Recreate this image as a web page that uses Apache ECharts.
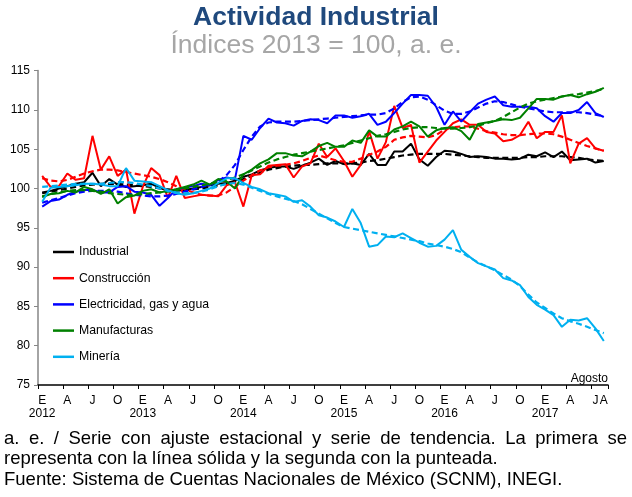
<!DOCTYPE html>
<html><head><meta charset="utf-8">
<script src="https://cdn.jsdelivr.net/npm/echarts@6/dist/echarts.min.js"></script>
<style>html,body{margin:0;padding:0;background:#fff}#c{width:632px;height:497px}</style>
</head><body><div id="c"></div>
<script>
// ---- data ----
const years = [2012, 2013, 2014, 2015, 2016, 2017];
const monthLetters = ['E','F','M','A','M','J','J','A','S','O','N','D'];
const lastMonthCount = 8; // Agosto 2017
const yTicks = {min: 75, max: 115, interval: 5};

const industrial = [
  99.5, 99.7, 100.0, 100.3, 100.6, 100.8, 102.0, 100.3, 101.2, 100.5, 100.2, 100.3,
  100.4, 100.6, 100.1, 99.7, 99.7, 99.8, 100.0, 100.2, 100.4, 100.6, 100.7, 101.0,
  101.5, 101.8, 102.3, 102.6, 102.8, 102.8, 102.5, 102.9, 103.3, 103.8, 103.0, 103.5,
  103.1, 103.2, 103.0, 104.4, 103.0, 103.0, 104.7, 104.7, 105.7, 103.7, 102.9, 104.0,
  104.8, 104.7, 104.4, 104.0, 104.1, 104.0, 103.8, 103.8, 103.7, 103.8, 104.3, 104.1,
  104.6, 104.0, 104.7, 103.6, 103.7, 103.8, 103.3, 103.5];
const industrialTend = [
  99.4, 99.6, 99.8, 100.0, 100.2, 100.4, 100.5, 100.6, 100.6, 100.6, 100.5, 100.4,
  100.3, 100.2, 100.0, 99.9, 99.8, 99.8, 99.9, 100.0, 100.2, 100.4, 100.6, 100.9,
  101.2, 101.6, 102.0, 102.4, 102.6, 102.8, 102.9, 103.0, 103.0, 103.1, 103.2, 103.2,
  103.2, 103.2, 103.3, 103.5, 103.6, 103.8, 104.0, 104.2, 104.3, 104.4, 104.4, 104.4,
  104.4, 104.3, 104.2, 104.1, 104.0, 103.9, 103.9, 103.9, 103.9, 103.9, 104.0, 104.0,
  104.1, 104.1, 104.1, 104.0, 103.9, 103.7, 103.6, 103.5];
const construccion = [
  101.6, 100.2, 100.3, 101.9, 101.1, 101.3, 106.7, 102.4, 104.1, 101.6, 102.4, 96.8,
  100.2, 102.6, 101.7, 98.8, 101.6, 98.8, 99.0, 99.2, 99.1, 99.0, 100.4, 100.8,
  97.7, 101.7, 101.8, 102.9, 103.0, 103.1, 101.4, 102.8, 103.2, 105.7, 104.0, 105.1,
  103.5, 101.5, 103.0, 107.3, 103.8, 105.9, 110.5, 107.7, 108.1, 103.3, 104.7, 106.1,
  107.2, 108.3, 108.8, 108.1, 108.1, 107.2, 107.0, 106.0, 106.2, 106.8, 108.5, 106.4,
  107.2, 107.2, 109.3, 103.2, 105.7, 106.4, 105.1, 104.8];
const construccionTend = [
  101.3, 101.0, 100.9, 101.1, 101.5, 101.9, 102.2, 102.4, 102.4, 102.3, 102.1, 101.9,
  101.7, 101.5, 101.2, 100.8, 100.3, 99.9, 99.5, 99.2, 99.1, 99.1, 99.5, 100.2,
  101.0, 101.7, 102.3, 102.7, 102.9, 103.0, 103.2, 103.5, 103.9, 104.2, 103.9, 103.6,
  103.4, 103.4, 103.8, 104.3, 104.7, 105.3, 106.2, 106.5, 106.7, 106.6, 106.5, 106.8,
  107.5, 107.8, 107.9, 107.9, 107.6, 107.3, 107.1, 106.9, 106.8, 106.8, 106.9, 107.0,
  107.0, 106.9, 106.6, 106.2, 105.8, 105.4, 105.1, 104.8];
const electricidad = [
  97.7, 98.4, 98.6, 99.2, 99.6, 99.8, 99.8, 99.5, 99.5, 100.2, 100.3, 99.6,
  99.5, 99.2, 97.8, 98.8, 99.9, 100.1, 100.3, 100.6, 100.4, 101.1, 101.4, 101.2,
  106.7, 106.2, 107.7, 108.9, 108.4, 108.3, 108.0, 108.6, 108.8, 108.7, 108.3, 109.3,
  109.3, 109.0, 109.2, 109.5, 108.1, 108.5, 109.6, 110.8, 111.9, 111.9, 111.8, 110.4,
  108.1, 109.8, 108.5, 109.7, 110.8, 111.3, 111.7, 110.6, 110.4, 110.4, 110.4, 110.2,
  109.2, 108.5, 109.6, 109.6, 110.0, 111.0, 109.6, 109.1];
const electricidadTend = [
  98.2, 98.5, 98.8, 99.1, 99.4, 99.6, 99.7, 99.7, 99.7, 99.6, 99.4, 99.2,
  99.1, 99.0, 99.0, 99.1, 99.3, 99.6, 99.9, 100.2, 100.5, 100.9, 101.7, 103.0,
  104.9, 106.6, 107.9, 108.4, 108.5, 108.5, 108.5, 108.6, 108.7, 108.8, 108.9, 109.0,
  109.1, 109.2, 109.3, 109.4, 109.4, 109.6, 110.2, 111.0, 111.6, 111.7, 111.3, 110.6,
  109.9, 109.5, 109.5, 109.8, 110.3, 110.8, 111.1, 111.0, 110.7, 110.4, 110.2, 110.0,
  109.8, 109.7, 109.7, 109.7, 109.7, 109.6, 109.4, 109.2];
const manufacturas = [
  98.9, 99.3, 99.4, 99.7, 99.5, 100.2, 99.9, 99.3, 99.9, 98.1, 98.9, 99.1,
  99.7, 99.9, 99.5, 99.7, 99.9, 100.2, 100.5, 101.0, 100.5, 101.2, 100.9, 100.0,
  101.8, 102.4, 103.2, 103.7, 104.5, 104.5, 104.2, 104.1, 104.7, 105.4, 105.8, 105.3,
  105.3, 106.1, 105.8, 107.4, 106.6, 106.6, 107.5, 107.9, 108.5, 107.9, 106.6, 107.4,
  107.7, 107.8, 107.3, 106.2, 108.2, 108.4, 108.6, 108.8, 108.7, 109.0, 110.2, 111.4,
  111.4, 111.3, 111.7, 111.9, 111.6, 112.0, 112.3, 112.8];
const manufacturasTend = [
  99.0, 99.3, 99.5, 99.7, 99.8, 99.8, 99.7, 99.6, 99.4, 99.3, 99.2, 99.2,
  99.3, 99.4, 99.5, 99.6, 99.8, 100.0, 100.2, 100.4, 100.6, 100.8, 101.1, 101.4,
  101.8, 102.3, 102.8, 103.3, 103.7, 104.0, 104.3, 104.5, 104.7, 104.9, 105.1, 105.3,
  105.5, 105.8, 106.1, 106.4, 106.7, 106.9, 107.2, 107.5, 107.7, 107.8, 107.8, 107.7,
  107.6, 107.6, 107.7, 107.8, 108.0, 108.3, 108.6, 109.1, 109.7, 110.3, 110.8, 111.1,
  111.3, 111.5, 111.7, 111.9, 112.0, 112.2, 112.4, 112.7];
const mineria = [
  98.3, 100.1, 100.2, 100.3, 100.4, 100.6, 100.6, 100.5, 100.3, 100.3, 102.6, 101.0,
  100.9, 100.8, 100.3, 99.8, 99.4, 99.2, 99.4, 99.7, 100.0, 100.7, 101.3, 101.3,
  100.7, 100.2, 99.9, 99.4, 99.2, 99.0, 98.3, 98.5, 97.7, 96.6, 96.3, 95.8,
  95.1, 97.4, 95.6, 92.6, 92.8, 93.9, 93.8, 94.3, 93.7, 93.1, 92.6, 92.7,
  93.5, 94.7, 92.2, 91.3, 90.5, 90.1, 89.7, 88.6, 88.3, 87.7, 86.2, 85.2,
  84.6, 83.9, 82.4, 83.3, 83.2, 83.5, 82.2, 80.6];
const mineriaTend = [
  100.2, 100.3, 100.4, 100.5, 100.6, 100.6, 100.6, 100.6, 100.7, 100.8, 100.8, 100.7,
  100.5, 100.3, 100.0, 99.7, 99.5, 99.4, 99.4, 99.6, 99.9, 100.3, 100.6, 100.7,
  100.5, 100.1, 99.7, 99.3, 99.0, 98.7, 98.4, 98.0, 97.4, 96.8, 96.2, 95.6,
  95.1, 94.9, 94.7, 94.5, 94.3, 94.1, 93.9, 93.7, 93.5, 93.3, 93.0, 92.8,
  92.6, 92.3, 91.9, 91.2, 90.6, 90.1, 89.6, 89.0, 88.4, 87.6, 86.5, 85.5,
  84.8, 84.1, 83.5, 83.1, 82.8, 82.4, 82.0, 81.6];

const seriesNames = ['Industrial', 'Construcción', 'Electricidad, gas y agua', 'Manufacturas', 'Minería'];
const footLine1 = 'a. e. / Serie con ajuste estacional y serie de tendencia. La primera se';
const footLine2 = 'representa con la línea sólida y la segunda con la punteada.';
const footLine3 = 'Fuente: Sistema de Cuentas Nacionales de México (SCNM), INEGI.';

// ---- build ----
const FONT = '"Liberation Sans", Arial, sans-serif';
const categories = [];
years.forEach((y, yi) => {
  const n = yi === years.length - 1 ? lastMonthCount : 12;
  for (let m = 0; m < n; m++) categories.push({y, m});
});
const catLabels = categories.map(c => c.y + '-' + (c.m + 1));
const lastIdx = categories.length - 1;

const colors = ['#000000', '#FF0000', '#0000FF', '#008000', '#00B0F0'];
const solidData = [industrial, construccion, electricidad, manufacturas, mineria];
const tendData = [industrialTend, construccionTend, electricidadTend, manufacturasTend, mineriaTend];

const series = [];
seriesNames.forEach((name, k) => {
  series.push({name, type: 'line', data: solidData[k], symbol: 'none', smooth: false,
    lineStyle: {color: colors[k], width: 2}, itemStyle: {color: colors[k]}, z: 3 + k});
  series.push({name: name + ' (tendencia)', type: 'line', data: tendData[k], symbol: 'none',
    lineStyle: {color: colors[k], width: 2.2, type: [6, 3.5]}, itemStyle: {color: colors[k]}, z: 3 + k});
});

// justified footnote
const FS = 18.5;
const ctx = document.createElement('canvas').getContext('2d');
ctx.font = FS + 'px "Liberation Sans"';
const graphics = [];
(function () {
  const words = footLine1.split(' ');
  const left = 4, right = 627;
  const widths = words.map(w => ctx.measureText(w).width);
  const total = widths.reduce((a, b) => a + b, 0);
  const gap = (right - left - total) / (words.length - 1);
  let x = left;
  words.forEach((w, i) => {
    graphics.push({type: 'text', left: x, top: 429, silent: true,
      style: {text: w, font: FS + 'px ' + FONT, fill: '#000'}});
    x += widths[i] + gap;
  });
})();
graphics.push({type: 'text', left: 4, top: 449.5, silent: true,
  style: {text: footLine2, font: FS + 'px ' + FONT, fill: '#000'}});
graphics.push({type: 'text', left: 4, top: 470.5, silent: true,
  style: {text: footLine3, font: FS + 'px ' + FONT, fill: '#000'}});
graphics.push({type: 'text', right: 24, top: 373, silent: true,
  style: {text: 'Agosto', font: '12px ' + FONT, fill: '#000'}});

const chart = echarts.init(document.getElementById('c'), null, {renderer: 'canvas'});
chart.setOption({
  animation: false,
  backgroundColor: '#fff',
  title: [
    {text: 'Actividad Industrial', left: 'center', top: -1,
      textStyle: {fontSize: 26.5, fontWeight: 'bold', color: '#1F497D', fontFamily: FONT}},
    {text: 'Índices 2013 = 100, a. e.', left: 'center', top: 27,
      textStyle: {fontSize: 26.5, fontWeight: 'normal', color: '#A6A6A6', fontFamily: FONT}}
  ],
  legend: {
    data: seriesNames, orient: 'vertical', left: 48, top: 240, padding: 5,
    icon: 'rect', itemWidth: 21, itemHeight: 2.5, itemGap: 12.2,
    textStyle: {fontSize: 12.25, color: '#000', fontFamily: FONT, lineHeight: 14},
    selectedMode: false
  },
  grid: {left: 38, right: 24, top: 70.6, bottom: 112, containLabel: false},
  xAxis: {
    type: 'category', data: catLabels, boundaryGap: true,
    axisLine: {lineStyle: {color: '#000', width: 1.5}},
    axisTick: {show: true, length: 4, interval: (i) => i % 3 === 0, lineStyle: {color: '#000', width: 1}},
    axisLabel: {
      interval: (i) => i % 3 === 0 || i === lastIdx,
      margin: 9, fontSize: 12, lineHeight: 13, color: '#000', fontFamily: FONT,
      formatter: (v, i) => {
        const c = categories[i];
        const l = monthLetters[c.m];
        return c.m === 0 ? l + '\n' + c.y : l;
      }
    },
    splitLine: {show: false}
  },
  yAxis: {
    type: 'value', min: yTicks.min, max: yTicks.max, interval: yTicks.interval,
    axisLine: {show: true, lineStyle: {color: '#868686', width: 1.5}},
    axisTick: {show: true, length: 4, lineStyle: {color: '#868686'}},
    axisLabel: {fontSize: 12, color: '#000', fontFamily: FONT, margin: 8},
    splitLine: {show: false}
  },
  graphic: graphics,
  series
});
</script>
</body></html>
